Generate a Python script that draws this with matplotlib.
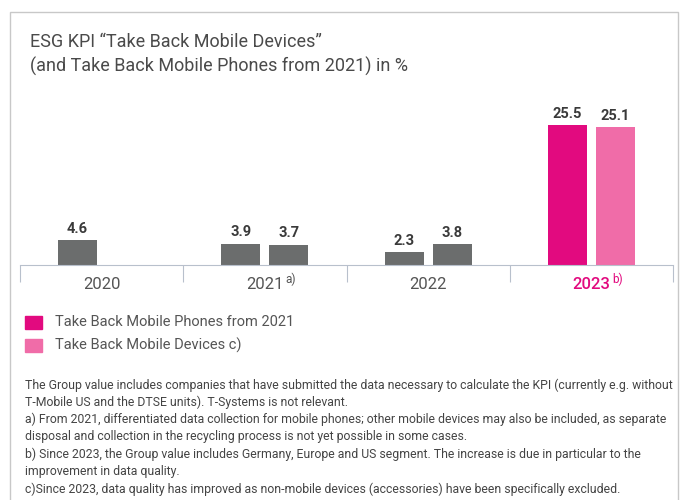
import matplotlib.pyplot as plt
import numpy as np
from matplotlib.patches import Rectangle

years = ["2020", "2021", "2022", "2023"]
year_notes = ["", "a)", "", "b)"]
phones = [4.6, 3.9, 2.3, 25.5]
devices = [None, 3.7, 3.8, 25.1]

title = "ESG KPI \u201cTake Back Mobile Devices\u201d\n(and Take Back Mobile Phones from 2021) in %"
legend_labels = ["Take Back Mobile Phones from 2021", "Take Back Mobile Devices c)"]
footnotes = [
    "The Group value includes companies that have submitted the data necessary to calculate the KPI (currently e.g. without",
    "T-Mobile US and the DTSE units). T-Systems is not relevant.",
    "a) From 2021, differentiated data collection for mobile phones; other mobile devices may also be included, as separate",
    "disposal and collection in the recycling process is not yet possible in some cases.",
    "b) Since 2023, the Group value includes Germany, Europe and US segment. The increase is due in particular to the",
    "improvement in data quality.",
    "c)Since 2023, data quality has improved as non-mobile devices (accessories) have been specifically excluded.",
]

gray = "#6b6d6d"
magenta = "#e20a7f"
pink = "#f06ca8"
txt = "#555555"

plt.rcParams['font.family'] = ['Roboto', 'DejaVu Sans']

fig = plt.figure(figsize=(6.8, 5), dpi=100)

# outer frame
fig.patches.append(Rectangle((10/680, -0.1), 668/680, 1.1 - 12/500, transform=fig.transFigure,
                             fill=False, edgecolor="#c8c8c8", linewidth=1))

fig.text(30/680, 1 - 33/500, title, ha="left", va="top", fontsize=13,
         color="#4a4a4a", linespacing=1.4)

ax = fig.add_axes([20/680, 235/500, 653/680, 165/500])
ax.set_xlim(0, 4)
ax.set_ylim(0, 30)
for s in ["top", "right", "left"]:
    ax.spines[s].set_visible(False)
ax.spines["bottom"].set_color("#b8c0cc")
ax.set_yticks([])
ax.set_xticks([0, 1, 2, 3, 4])
ax.set_xticklabels([])
ax.tick_params(axis="x", length=12, color="#b8c0cc", direction="out")

w = 0.24
off = 0.147
for i, yr in enumerate(years):
    c = i + 0.5
    is_last = i == len(years) - 1
    c1 = magenta if is_last else gray
    c2 = pink if is_last else gray
    ax.bar(c - off, phones[i], width=w, color=c1)
    ax.annotate(f"{phones[i]:.1f}", (c - off, phones[i]), xytext=(0, 3),
                textcoords="offset points", ha="center", va="bottom",
                fontsize=10.5, fontweight="bold", color="#3a3a3a")
    if devices[i] is not None:
        ax.bar(c + off, devices[i], width=w, color=c2)
        ax.annotate(f"{devices[i]:.1f}", (c + off, devices[i]), xytext=(0, 3),
                    textcoords="offset points", ha="center", va="bottom",
                    fontsize=10.5, fontweight="bold", color="#3a3a3a")
    lc = magenta if is_last else txt
    ax.annotate(yr, (c, 0), xytext=(0, -14), textcoords="offset points",
                ha="center", va="center", fontsize=12, color=lc,
                fontweight="medium" if is_last else "normal")
    if year_notes[i]:
        ax.annotate(year_notes[i], (c, 0), xytext=(15, -10), textcoords="offset points",
                    ha="left", va="center", fontsize=8.5, color=lc)

# legend
for k, (lab, col) in enumerate(zip(legend_labels, [magenta, pink])):
    y = 1 - (322 + k * 23) / 500
    fig.patches.append(Rectangle((25/680, y - 6.5/500), 17/680, 13/500,
                                 transform=fig.transFigure, color=col))
    fig.text(55/680, y, lab, ha="left", va="center", fontsize=10.5, color=txt)

for k, line in enumerate(footnotes):
    fig.text(25/680, 1 - (385 + k * 17.3) / 500, line, ha="left", va="center",
             fontsize=8.8, color="#444444")

plt.savefig("out.png", dpi=100)
